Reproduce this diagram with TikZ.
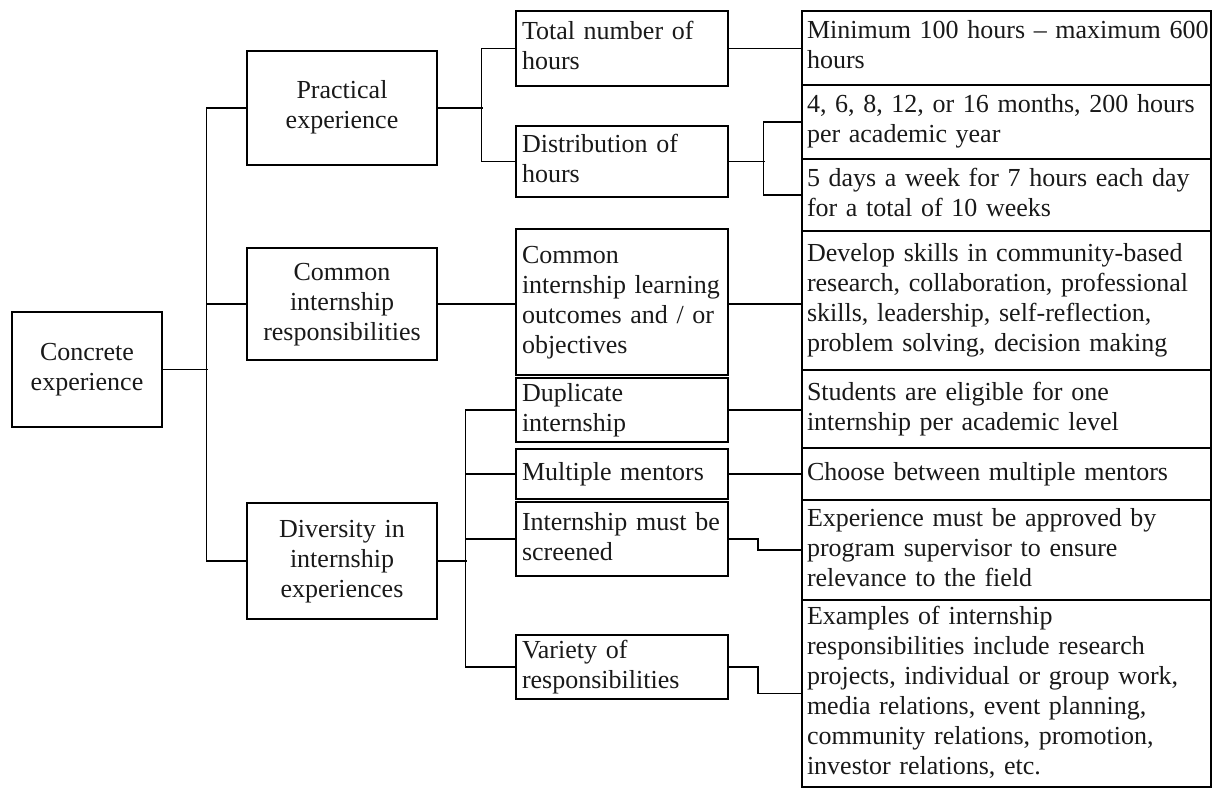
\documentclass[tikz,border=0pt]{standalone}
\usepackage{fontspec}
\setmainfont{Liberation Serif}
\usetikzlibrary{calc}
\begin{document}
\begin{tikzpicture}[x=1pt,y=-1pt,
  basebox/.style={draw, line width=1.6pt, inner ysep=0pt, inner xsep=6pt,
    font=\fontsize{26}{30}\selectfont, text=black!90},
  leftbox/.style={basebox, align=center, text width=178pt, minimum width=190pt},
  rootbox/.style={basebox, align=center, text width=138pt, minimum width=150pt},
  midbox/.style={basebox, align=left, text width=200pt, minimum width=212pt},
  rightbox/.style={basebox, align=left, inner xsep=5pt, text width=399pt, minimum width=409pt},
  conn/.style={line width=1.4pt}]
\useasboundingbox (0,0) rectangle (1212,789);

% root
\node[rootbox, minimum height=115pt] (concrete) at (87,369.5) {\strut Concrete\\experience\strut};
% left column
\node[leftbox, minimum height=114pt] (practical) at (342,108) {\strut Practical\\experience\strut};
\node[leftbox, minimum height=112pt] (commonR) at (342,304) {\strut Common\\internship\\responsibilities\strut};
\node[leftbox, minimum height=116pt] (diversity) at (342,561) {\strut Diversity in\\internship\\experiences\strut};
% middle column
\node[midbox, minimum height=75pt] (total) at (622,48.5) {\strut Total number of\\hours\strut};
\node[midbox, minimum height=71pt] (dist) at (622,161.5) {\strut Distribution of\\hours\strut};
\node[midbox, minimum height=146pt] (learn) at (622,302) {\strut Common\\internship learning\\outcomes and / or\\objectives\strut};
\node[midbox, minimum height=64pt] (dup) at (622,410) {\strut Duplicate\\internship\strut};
\node[midbox, minimum height=50pt] (mult) at (622,474) {\strut Multiple mentors\strut};
\node[midbox, minimum height=74pt] (screened) at (622,539) {\strut Internship must be\\screened\strut};
\node[midbox, minimum height=64pt] (variety) at (622,667) {\strut Variety of\\responsibilities\strut};
% right column
\node[rightbox, minimum height=74pt] (r1) at (1006.5,48) {\strut\mbox{Minimum 100 hours -- maximum 600}\\hours\strut};
\node[rightbox, minimum height=74pt] (r2) at (1006.5,122) {\strut 4, 6, 8, 12, or 16 months, 200 hours\\per academic year\strut};
\node[rightbox, minimum height=72pt] (r3) at (1006.5,195) {\strut 5 days a week for 7 hours each day\\for a total of 10 weeks\strut};
\node[rightbox, minimum height=139pt] (r4) at (1006.5,300.5) {\strut Develop skills in community-based\\research, collaboration, professional\\skills, leadership, self-reflection,\\problem solving, decision making\strut};
\node[rightbox, minimum height=78pt] (r5) at (1006.5,409) {\strut Students are eligible for one\\internship per academic level\strut};
\node[rightbox, minimum height=52pt] (r6) at (1006.5,474) {\strut Choose between multiple mentors\strut};
\node[rightbox, minimum height=100pt] (r7) at (1006.5,550) {\strut Experience must be approved by\\program supervisor to ensure\\relevance to the field\strut};
\node[rightbox, minimum height=187pt] (r8) at (1006.5,693.5) {\strut Examples of internship\\responsibilities include research\\projects, individual or group work,\\media relations, event planning,\\community relations, promotion,\\investor relations, etc.\strut};

% connectors: root to left column
\draw[conn] (concrete.east) -- ++(45,0);
\draw[conn] (practical.west) -- ++(-40,0) |- (diversity.west);
\draw[conn] (commonR.west) -- ++(-40,0);
% practical branch
\draw[conn] (practical.east) -- ++(45,0);
\draw[conn] (total.west) -- ++(-34,0) |- (dist.west);
\draw[conn] (total.east) -- (total.east -| r1.west);
\draw[conn] (dist.east) -- ++(36,0);
\draw[conn] (r2.west) -- ++(-38,0) |- (r3.west);
% common branch
\draw[conn] (commonR.east) -- (commonR.east -| learn.west);
\draw[conn] ($(learn.east)+(0,2)$) -- ($(learn.east -| r4.west)+(0,2)$);
% diversity branch
\draw[conn] (diversity.east) -- ++(29,0);
\draw[conn] (dup.west) -- ++(-50,0) |- (variety.west);
\draw[conn] (mult.west) -- ++(-50,0);
\draw[conn] (screened.west) -- ++(-50,0);
\draw[conn] (dup.east) -- (dup.east -| r5.west);
\draw[conn] (mult.east) -- (mult.east -| r6.west);
\draw[conn] (screened.east) -- ++(29,0) |- (r7.west);
\draw[conn] (variety.east) -- ++(29,0) |- (r8.west);
\end{tikzpicture}
\end{document}
